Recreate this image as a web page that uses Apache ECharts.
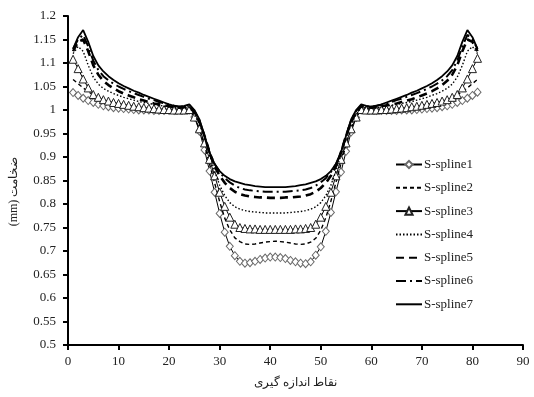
<!DOCTYPE html>
<html>
<head>
<meta charset="utf-8">
<script src="https://cdn.jsdelivr.net/npm/echarts@6/dist/echarts.min.js"></script>
<style>
  html, body { margin: 0; padding: 0; background: #fff; }
  #chart { width: 534px; height: 397px; }
</style>
</head>
<body>
<div id="chart"></div>
<script>
// Measurement points 1..81
const points = [];
for (let i = 1; i <= 81; i++) points.push(i);

const xTicks = [0, 10, 20, 30, 40, 50, 60, 70, 80, 90];
const yTicks = [0.5, 0.55, 0.6, 0.65, 0.7, 0.75, 0.8, 0.85, 0.9, 0.95, 1, 1.05, 1.1, 1.15, 1.2];

const seriesNames = ['S-spline1', 'S-spline2', 'S-spline3', 'S-spline4', 'S-spline5', 'S-spline6', 'S-spline7'];

// Thickness (mm) at each measurement point
const spline1 = [
  1.037,1.031,1.025,1.020,1.016,1.012,1.009,1.007,1.005,1.004,1.003,1.002,1.001,1.000,1.000,1.000,0.999,0.999,0.999,0.999,0.999,1.000,1.000,1.000,
  0.985,0.955,0.915,0.870,0.825,0.780,0.740,0.710,0.690,0.678,0.674,0.675,0.678,0.682,0.685,0.687,0.687,
  0.686,0.684,0.680,0.677,0.674,0.673,0.677,0.691,0.709,0.742,0.782,0.826,0.868,0.912,0.953,0.984,
  1.000,1.000,1.000,0.999,0.999,0.999,0.999,0.999,1.000,1.000,1.000,1.001,1.002,1.003,1.004,1.005,1.007,1.009,1.012,1.016,1.020,1.025,1.031,1.038
];
const spline2 = [
  1.065,1.056,1.047,1.039,1.032,1.026,1.021,1.017,1.014,1.011,1.009,1.007,1.005,1.004,1.003,1.002,1.001,1.000,1.000,1.000,1.000,1.000,1.000,1.001,
  0.985,0.960,0.925,0.885,0.845,0.805,0.770,0.745,0.728,0.720,0.715,0.714,0.715,0.717,0.719,0.720,0.721,
  0.720,0.719,0.717,0.715,0.714,0.715,0.719,0.727,0.744,0.771,0.806,0.846,0.886,0.926,0.961,0.986,
  1.001,1.000,1.000,1.000,1.000,1.000,1.000,1.001,1.002,1.003,1.004,1.005,1.007,1.009,1.011,1.014,1.017,1.021,1.026,1.032,1.039,1.047,1.056,1.065
];
const spline3 = [
  1.108,1.088,1.066,1.047,1.033,1.027,1.022,1.019,1.016,1.014,1.012,1.010,1.008,1.007,1.005,1.004,1.003,1.002,1.001,1.001,1.000,1.000,1.000,1.001,
  0.985,0.960,0.930,0.895,0.860,0.825,0.795,0.772,0.757,0.750,0.748,0.747,0.747,0.746,0.746,0.746,0.746,
  0.746,0.746,0.746,0.747,0.747,0.748,0.750,0.757,0.772,0.795,0.825,0.860,0.895,0.930,0.960,0.985,
  1.001,1.000,1.000,1.000,1.001,1.001,1.002,1.003,1.004,1.005,1.007,1.008,1.010,1.012,1.014,1.016,1.019,1.022,1.027,1.033,1.047,1.066,1.088,1.110
];
const spline4 = [
  1.120,1.135,1.125,1.095,1.070,1.055,1.046,1.040,1.035,1.031,1.027,1.024,1.021,1.018,1.016,1.014,1.012,1.010,1.008,1.006,1.005,1.004,1.004,1.006,
  0.990,0.970,0.940,0.905,0.870,0.840,0.818,0.803,0.794,0.789,0.786,0.784,0.783,0.782,0.781,0.781,0.781,
  0.781,0.781,0.782,0.783,0.784,0.786,0.789,0.794,0.803,0.818,0.840,0.870,0.905,0.940,0.970,0.990,
  1.006,1.004,1.004,1.005,1.006,1.008,1.010,1.012,1.014,1.016,1.018,1.021,1.024,1.027,1.031,1.035,1.040,1.046,1.055,1.070,1.095,1.125,1.135,1.120
];
const spline5 = [
  1.125,1.145,1.150,1.125,1.095,1.075,1.062,1.053,1.046,1.040,1.035,1.031,1.027,1.023,1.020,1.017,1.014,1.012,1.010,1.008,1.006,1.005,1.006,1.008,
  0.995,0.975,0.945,0.910,0.880,0.860,0.845,0.834,0.826,0.821,0.818,0.816,0.815,0.814,0.814,0.813,0.813,
  0.813,0.814,0.814,0.815,0.816,0.818,0.821,0.826,0.834,0.845,0.860,0.880,0.910,0.945,0.975,0.995,
  1.008,1.006,1.005,1.006,1.008,1.010,1.012,1.014,1.017,1.020,1.023,1.027,1.031,1.035,1.040,1.046,1.053,1.062,1.075,1.095,1.125,1.150,1.145,1.125
];
const spline6 = [
  1.130,1.150,1.160,1.135,1.105,1.085,1.072,1.063,1.056,1.050,1.045,1.040,1.036,1.032,1.028,1.024,1.021,1.017,1.014,1.011,1.009,1.007,1.008,1.010,
  0.998,0.978,0.945,0.910,0.885,0.868,0.855,0.846,0.839,0.834,0.831,0.829,0.828,0.827,0.826,0.826,0.826,
  0.826,0.826,0.827,0.828,0.829,0.831,0.834,0.839,0.846,0.855,0.868,0.885,0.910,0.945,0.978,0.998,
  1.010,1.008,1.007,1.009,1.011,1.014,1.017,1.021,1.024,1.028,1.032,1.036,1.040,1.045,1.050,1.056,1.063,1.072,1.085,1.105,1.135,1.160,1.150,1.130
];
const spline7 = [
  1.130,1.155,1.170,1.145,1.115,1.095,1.082,1.072,1.064,1.057,1.051,1.046,1.041,1.037,1.032,1.028,1.024,1.020,1.016,1.012,1.009,1.007,1.009,1.012,
  1.000,0.980,0.945,0.910,0.885,0.870,0.860,0.853,0.848,0.845,0.842,0.840,0.838,0.837,0.836,0.836,0.836,
  0.836,0.836,0.837,0.838,0.840,0.842,0.845,0.848,0.853,0.860,0.870,0.885,0.910,0.945,0.980,1.000,
  1.012,1.009,1.007,1.009,1.012,1.016,1.020,1.024,1.028,1.032,1.037,1.041,1.046,1.051,1.057,1.064,1.072,1.082,1.095,1.115,1.145,1.170,1.155,1.130
];

const seriesValues = [spline1, spline2, spline3, spline4, spline5, spline6, spline7];

const FONT = '"Liberation Serif", "Times New Roman", serif';

// Line look for each curve
const looks = [
  { width: 1, type: 'solid', symbol: 'diamond', size: [7, 8], stroke: '#6a6a6a' },
  { width: 1.4, type: [4, 3], symbol: 'none' },
  { width: 1, type: 'solid', symbol: 'triangle', size: 8, stroke: '#222' },
  { width: 1.4, type: [1.5, 2], symbol: 'none' },
  { width: 2.6, type: [8, 5], symbol: 'none' },
  { width: 2, type: [10, 4, 2, 4], symbol: 'none' },
  { width: 1.8, type: 'solid', symbol: 'none' }
];

const series = seriesNames.map((name, i) => {
  const lk = looks[i];
  const s = {
    name: name,
    type: 'line',
    data: points.map((x, j) => [x, seriesValues[i][j]]),
    symbol: lk.symbol,
    showSymbol: lk.symbol !== 'none',
    lineStyle: { color: '#000', width: lk.width, type: lk.type },
    itemStyle: { color: '#000' },
    animation: false,
    z: 2 + i
  };
  if (lk.symbol !== 'none') {
    s.symbolSize = lk.size;
    s.itemStyle = { color: '#fff', borderColor: lk.stroke, borderWidth: 1 };
  }
  return s;
});

// Legend entries: plain lines get no marker in their key
const legendData = seriesNames.map((name, i) => {
  if (looks[i].symbol !== 'none') return { name: name };
  return { name: name, itemStyle: { color: 'rgba(0,0,0,0)', borderColor: 'rgba(0,0,0,0)', borderWidth: 0 } };
});

const chart = echarts.init(document.getElementById('chart'), null, { renderer: 'canvas' });
chart.setOption({
  backgroundColor: '#fff',
  animation: false,
  grid: { left: 68, right: 11, top: 16, bottom: 52, containLabel: false },
  xAxis: {
    type: 'value',
    min: xTicks[0],
    max: xTicks[xTicks.length - 1],
    interval: 10,
    name: 'نقاط اندازه گیری',
    nameLocation: 'middle',
    nameGap: 32,
    nameTextStyle: { fontFamily: FONT, fontSize: 12, color: '#222' },
    axisLine: { lineStyle: { color: '#000', width: 2 } },
    axisTick: { inside: false, length: 5, lineStyle: { color: '#000', width: 2 } },
    axisLabel: { fontFamily: FONT, fontSize: 13, color: '#222', margin: 10 },
    splitLine: { show: false }
  },
  yAxis: {
    type: 'value',
    min: yTicks[0],
    max: yTicks[yTicks.length - 1],
    interval: 0.05,
    name: '(mm) ضخامت',
    nameLocation: 'middle',
    nameGap: 48,
    nameTextStyle: { fontFamily: FONT, fontSize: 12, color: '#222', padding: [0, 22, 0, 0] },
    axisLine: { show: true, lineStyle: { color: '#000', width: 2 } },
    axisTick: { show: true, inside: false, length: 5, lineStyle: { color: '#000', width: 2 } },
    axisLabel: {
      fontFamily: FONT, fontSize: 13, color: '#222', margin: 12,
      formatter: v => String(+v.toFixed(2))
    },
    splitLine: { show: false }
  },
  legend: {
    data: legendData,
    orient: 'vertical',
    left: 390,
    top: 153,
    itemWidth: 26,
    itemHeight: 9,
    itemGap: 10.3,
    textStyle: { fontFamily: FONT, fontSize: 13, color: '#222', padding: [0, 0, 0, -3] }
  },
  series: series
});
</script>
</body>
</html>
